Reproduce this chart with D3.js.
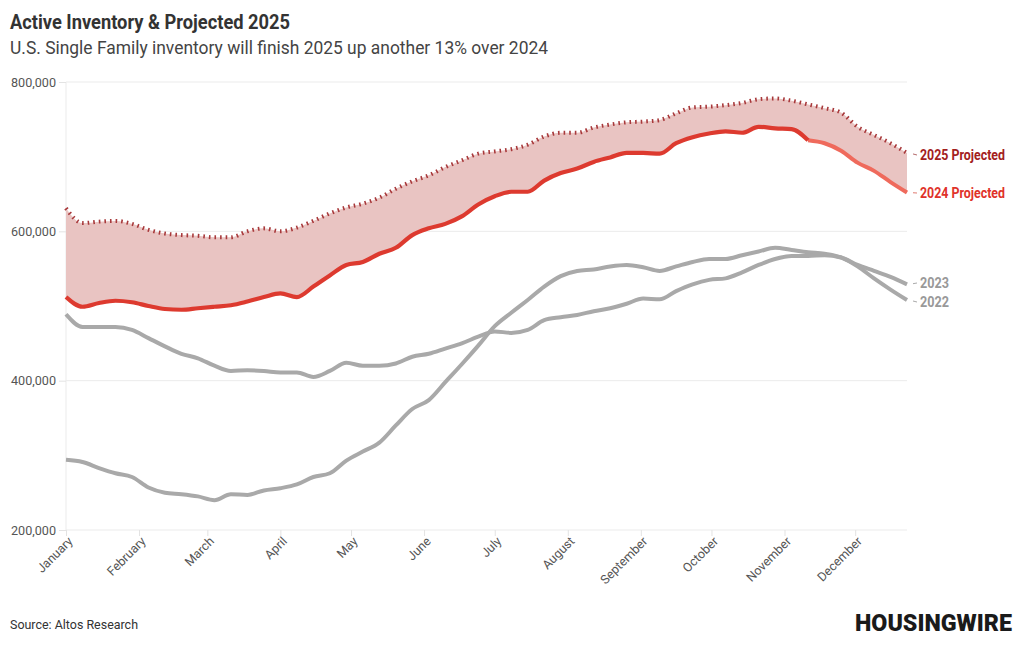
<!DOCTYPE html>
<html>
<head>
<meta charset="utf-8">
<script src="https://cdn.jsdelivr.net/npm/d3@7"></script>
<style>
  html, body { margin: 0; padding: 0; background: #fff; }
  svg { display: block; font-family: Roboto, "Noto Sans", sans-serif; }
</style>
</head>
<body>
<svg id="chart" width="1020" height="650"></svg>
<script>
// ---------- data (weekly, thousands of homes) ----------
const weekStart = "2024-01-01";
const weekCount = 52;
const monthLabels = ["January","February","March","April","May","June","July","August","September","October","November","December"];
const yTicks = [200000, 400000, 600000, 800000];

const projected2025 = [631,611,613,614,610,602,597,595,594,592,592,600,604,600,605,614,624,632,637,645,657,667,675,686,695,704,707,710,716,727,732,732,739,743,746,747,749,758,766,767,769,772,777,778,775,770,765,759,740,729,718,705];
const inv2024 = [512,499,504,507,505,500,496,495,497,499,501,506,512,517,512,526,541,555,559,570,578,595,604,610,620,636,647,653,653,668,678,684,693,699,705,705,704,718,726,731,734,732,740,738,737,722,718,708,692,681,666,652];
const inv2023 = [489,472,472,472,468,457,446,436,430,420,413,414,413,411,411,405,413,424,420,420,423,432,436,443,450,459,466,464,468,481,485,488,493,497,503,510,509,520,529,535,537,545,555,563,567,567,568,565,555,547,539,529];
const inv2022 = [294,291,283,276,271,257,250,248,245,240,248,247,253,256,261,271,276,293,305,317,340,362,374,398,422,447,473,491,508,526,540,547,549,553,555,552,547,553,559,563,563,568,573,578,575,572,570,565,553,537,522,508];
const actual2024LastIndex = 45; // after this week the 2024 line is projected

// ---------- setup ----------
const svg = d3.select("#chart");
const parse = d3.timeParse("%Y-%m-%d");
const start = parse(weekStart);
const dates = d3.range(weekCount).map(i => d3.timeDay.offset(start, 7 * i));
const rows = dates.map((d, i) => ({
  date: d,
  p25: projected2025[i] * 1000,
  v24: inv2024[i] * 1000,
  v23: inv2023[i] * 1000,
  v22: inv2022[i] * 1000
}));

const L = 66, R = 907, T = 82, B = 530;
const x = d3.scaleTime().domain([dates[0], dates[dates.length - 1]]).range([L, R]);
const y = d3.scaleLinear().domain([200000, 800000]).range([B, T]);
const curve = d3.curveMonotoneX;

// ---------- titles ----------
svg.append("text").attr("x", 10).attr("y", 29)
  .attr("font-size", 21).attr("font-weight", 700).attr("fill", "#333")
  .attr("textLength", 280).attr("lengthAdjust", "spacingAndGlyphs")
  .text("Active Inventory & Projected 2025");
svg.append("text").attr("x", 10).attr("y", 54)
  .attr("font-size", 18.5).attr("fill", "#444")
  .attr("textLength", 538).attr("lengthAdjust", "spacingAndGlyphs")
  .text("U.S. Single Family inventory will finish 2025 up another 13% over 2024");

// ---------- grid & axes ----------
const gy = svg.append("g");
yTicks.forEach(t => {
  gy.append("line").attr("x1", L).attr("x2", R).attr("y1", y(t)).attr("y2", y(t))
    .attr("stroke", "#ebebeb").attr("stroke-width", 1);
});
gy.append("line").attr("x1", L).attr("x2", L).attr("y1", T).attr("y2", B)
  .attr("stroke", "#ebebeb").attr("stroke-width", 1);

const yAxis = svg.append("g").attr("transform", `translate(${L},0)`)
  .call(d3.axisLeft(y).tickValues(yTicks).tickSize(7).tickPadding(3).tickFormat(d3.format(",")));
yAxis.select(".domain").remove();
yAxis.selectAll(".tick line").attr("stroke", "#e3e3e3");
yAxis.selectAll(".tick text").attr("fill", "#555").attr("font-size", 13.5)
  .attr("font-family", "Roboto, sans-serif")
  .attr("textLength", 45).attr("lengthAdjust", "spacingAndGlyphs");

const monthTicks = d3.timeMonth.range(d3.timeMonth.floor(dates[0]), dates[dates.length - 1]);
const xAxis = svg.append("g").attr("transform", `translate(0,${B})`)
  .call(d3.axisBottom(x).tickValues(monthTicks).tickSize(6).tickFormat(d => monthLabels[d.getMonth()]));
xAxis.select(".domain").remove();
xAxis.selectAll(".tick line").attr("stroke", "#e3e3e3");
xAxis.selectAll(".tick text")
  .attr("fill", "#555").attr("font-size", 12.5).attr("font-family", "Roboto, sans-serif")
  .attr("text-anchor", "end").attr("dy", null).attr("y", 0)
  .attr("transform", "translate(7,12) rotate(-45)");

// ---------- area between 2024 and 2025 ----------
svg.append("path").datum(rows)
  .attr("fill", "#e9c4c2")
  .attr("d", d3.area().curve(curve).x(d => x(d.date)).y0(d => y(d.v24)).y1(d => y(d.p25)));

// ---------- lines ----------
const line = key => d3.line().curve(curve).x(d => x(d.date)).y(d => y(d[key]));

svg.append("path").datum(rows).attr("fill", "none")
  .attr("stroke", "#a9a9a9").attr("stroke-width", 4).attr("stroke-linejoin", "round")
  .attr("d", line("v22"));
svg.append("path").datum(rows).attr("fill", "none")
  .attr("stroke", "#a9a9a9").attr("stroke-width", 4).attr("stroke-linejoin", "round")
  .attr("d", line("v23"));

svg.append("path").datum(rows.slice(actual2024LastIndex)).attr("fill", "none")
  .attr("stroke", "#ef6a5c").attr("stroke-width", 4).attr("stroke-linejoin", "round")
  .attr("d", line("v24"));
svg.append("path").datum(rows.slice(0, actual2024LastIndex + 1)).attr("fill", "none")
  .attr("stroke", "#dd3a2f").attr("stroke-width", 4.2).attr("stroke-linejoin", "round")
  .attr("d", line("v24"));

svg.append("path").datum(rows).attr("fill", "none")
  .attr("stroke", "#a8393b").attr("stroke-width", 4).attr("stroke-dasharray", "1.6,4")
  .attr("d", line("p25"));

// ---------- end labels ----------
const last = rows[rows.length - 1];
const labels = [
  { text: "2025 Projected", v: last.p25, ly: 155, color: "#a3201d", lead: "#b56b6b" },
  { text: "2024 Projected", v: last.v24, ly: 193, color: "#e0322a", lead: "#e07a70" },
  { text: "2023", v: last.v23, ly: 283, color: "#999", lead: "#aaa" },
  { text: "2022", v: last.v22, ly: 302, color: "#999", lead: "#aaa" }
];
labels.forEach(o => {
  svg.append("line").attr("x1", R + 6).attr("x2", R + 10)
    .attr("y1", y(o.v) + (o.ly - y(o.v)) * 0.5).attr("y2", o.ly)
    .attr("stroke", o.lead).attr("stroke-width", 1);
  svg.append("text").attr("x", R + 13).attr("y", o.ly).attr("dy", "0.35em")
    .attr("font-size", 14).attr("font-weight", 700).attr("fill", o.color)
    .attr("textLength", o.text.length > 4 ? 85 : 29).attr("lengthAdjust", "spacingAndGlyphs")
    .text(o.text);
});

// ---------- footer ----------
svg.append("text").attr("x", 10).attr("y", 629)
  .attr("font-size", 13.5).attr("fill", "#333")
  .attr("textLength", 128).attr("lengthAdjust", "spacingAndGlyphs")
  .text("Source: Altos Research");
svg.append("text").attr("x", 855).attr("y", 631)
  .attr("font-size", 23).attr("font-weight", 900).attr("fill", "#1a1a1a")
  .attr("textLength", 157).attr("lengthAdjust", "spacingAndGlyphs")
  .text("HOUSINGWIRE");
</script>
</body>
</html>
